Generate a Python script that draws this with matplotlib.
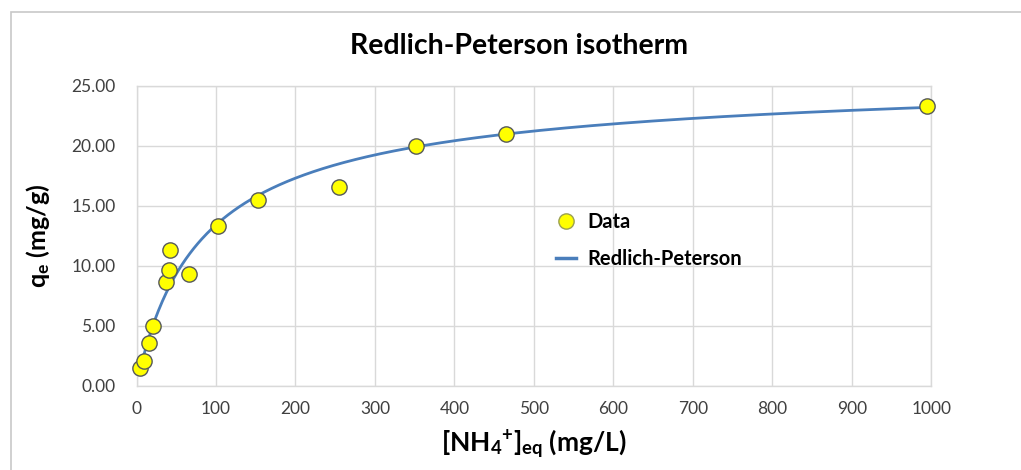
import numpy as np
import matplotlib
matplotlib.use("Agg")
import matplotlib.pyplot as plt
from matplotlib.patches import Rectangle
from matplotlib.lines import Line2D

plt.rcParams['font.family'] = ['Lato', 'DejaVu Sans']
plt.rcParams['mathtext.fontset'] = 'custom'
plt.rcParams['mathtext.rm'] = 'Lato'
plt.rcParams['mathtext.bf'] = 'Lato:bold'
plt.rcParams['mathtext.it'] = 'Lato:italic'

# Equilibrium concentration (mg/L) and uptake (mg/g)
ce = [4.4, 9.4, 16.1, 20.8, 37.1, 40.5, 42.1, 66.4, 102.5, 153.2, 255.1, 351.2, 464.8, 994.7]
qe = [1.45, 2.06, 3.53, 4.98, 8.60, 9.60, 11.30, 9.28, 13.33, 15.50, 16.53, 19.95, 20.97, 23.33]

# Redlich-Peterson parameters: q = K*C / (1 + a*C^b)
rp_K = 0.314
rp_a = 0.01542
rp_b = 0.97

xticks = [0, 100, 200, 300, 400, 500, 600, 700, 800, 900, 1000]
yticks = [0, 5, 10, 15, 20, 25]

fig = plt.figure(figsize=(10.21, 4.70), dpi=100)
fig.patch.set_facecolor('white')

# outer chart frame
fig.add_artist(Rectangle((11 / 1021, -0.2), 1.5, 1.2 - 12 / 470,
                         transform=fig.transFigure, fill=False,
                         edgecolor='#c8c8c8', linewidth=1.2))

ax = fig.add_axes([0.1337, 0.1794, 0.9123 - 0.1337, 0.8177 - 0.1794])

c_fit = np.linspace(min(ce), max(ce), 600)
q_fit = rp_K * c_fit / (1 + rp_a * c_fit ** rp_b)

ax.plot(c_fit, q_fit, color='#4a7ebb', linewidth=2.0, zorder=3)
ax.plot(ce, qe, linestyle='none', marker='o', markersize=11,
        markerfacecolor='#ffff00', markeredgecolor='#55585a',
        markeredgewidth=1.0, zorder=4, clip_on=False)

ax.set_xlim(0, 1000)
ax.set_ylim(0, 25)
ax.set_xticks(xticks)
ax.set_yticks(yticks)
ax.set_xticklabels([str(t) for t in xticks])
ax.set_yticklabels([f"{t:.2f}" for t in yticks])
ax.tick_params(length=0, labelsize=12.5, colors='#404040')
ax.tick_params(axis='x', pad=11)
ax.tick_params(axis='y', pad=15)
ax.grid(True, color='#d9d9d9', linewidth=1.0)
ax.set_axisbelow(True)
for s in ax.spines.values():
    s.set_color('#d9d9d9')
    s.set_linewidth(1.0)

ax.set_xlabel(r'[NH$_\mathbf{4}$$^\mathbf{+}$]$_\mathbf{eq}$ (mg/L)',
              fontsize=19, fontweight='bold', labelpad=8)
ax.set_ylabel(r'q$_\mathbf{e}$ (mg/g)', fontsize=18, fontweight='bold',
              labelpad=14)

fig.text(0.508, 0.903, 'Redlich-Peterson isotherm', ha='center',
         va='center', fontsize=20.5, fontweight='bold')

handles = [
    Line2D([], [], linestyle='none', marker='o', markersize=11,
           markerfacecolor='#ffff00', markeredgecolor='#9aa050',
           markeredgewidth=1.0),
    Line2D([], [], color='#4a7ebb', linewidth=2.5),
]
ax.legend(handles, ['Data', 'Redlich-Peterson'], loc='center left',
          bbox_to_anchor=(0.505, 0.485), frameon=False,
          prop={'weight': 'bold', 'size': 14.5}, handlelength=1.0,
          labelspacing=0.85, handletextpad=0.55)

fig.savefig('out.png', dpi=100)
